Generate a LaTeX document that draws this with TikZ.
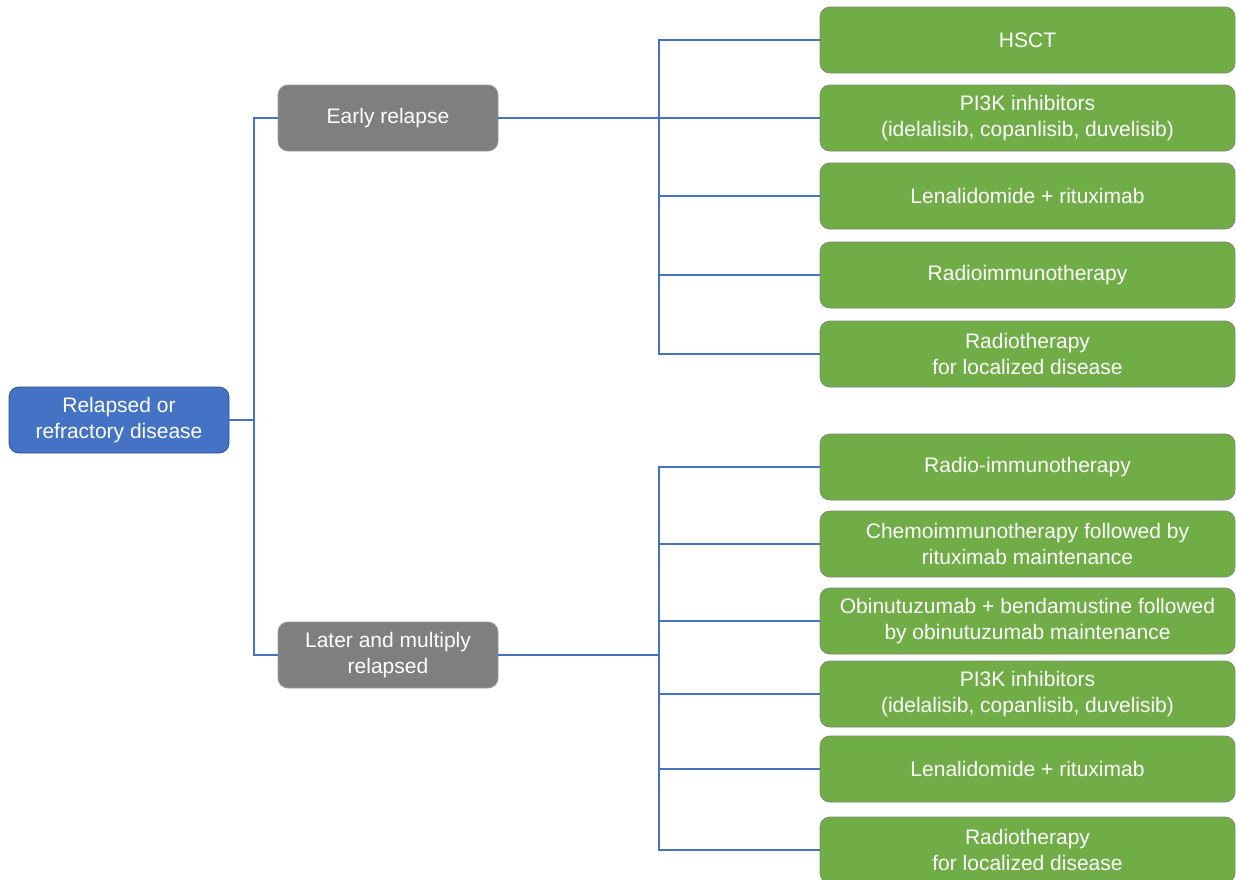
\documentclass[tikz,border=0pt]{standalone}
\usepackage{fontspec}
\setmainfont{Liberation Sans}
\definecolor{rootblue}{HTML}{4472C4}
\definecolor{rootedge}{HTML}{2F528F}
\definecolor{midgray}{HTML}{7F7F7F}
\definecolor{leafgreen}{HTML}{70AD47}
\definecolor{leafedge}{HTML}{7A8A70}
\definecolor{linkblue}{HTML}{4472C4}
\begin{document}
\begin{tikzpicture}[x=1pt,y=-1pt,
  box/.style={rounded corners=10pt, align=center, text=white, inner sep=2pt,
    minimum height=66pt, font=\fontsize{21}{25.5}\selectfont, line width=0.8pt},
  rootbox/.style={box, fill=rootblue, draw=rootedge, minimum width=220pt},
  midbox/.style={box, fill=midgray, draw=midgray!80!white, minimum width=220pt},
  leafbox/.style={box, fill=leafgreen, draw=leafedge, minimum width=415pt},
  link/.style={draw=linkblue, line width=1.1pt}]
\useasboundingbox (0,0) rectangle (1236,879);
\clip (0,0) rectangle (1236,879);
\fill[white] (0,0) rectangle (1236,879);

\node[rootbox] (root) at (119,420) {Relapsed or\\refractory disease};
\node[midbox] (early) at (388,118) {Early relapse};
\node[midbox] (later) at (388,655) {Later and multiply\\relapsed};

\node[leafbox] (e1) at (1027.5,40) {HSCT};
\node[leafbox] (e2) at (1027.5,118) {PI3K inhibitors\\(idelalisib, copanlisib, duvelisib)};
\node[leafbox] (e3) at (1027.5,196) {Lenalidomide + rituximab};
\node[leafbox] (e4) at (1027.5,275) {Radioimmunotherapy};
\node[leafbox] (e5) at (1027.5,354) {Radiotherapy\\for localized disease};

\node[leafbox] (l1) at (1027.5,467) {Radio-immunotherapy};
\node[leafbox] (l2) at (1027.5,544) {Chemoimmunotherapy followed by\\rituximab maintenance};
\node[leafbox] (l3) at (1027.5,621) {Obinutuzumab + bendamustine followed\\by obinutuzumab maintenance};
\node[leafbox] (l4) at (1027.5,694) {PI3K inhibitors\\(idelalisib, copanlisib, duvelisib)};
\node[leafbox] (l5) at (1027.5,769) {Lenalidomide + rituximab};
\node[leafbox] (l6) at (1027.5,850) {Radiotherapy\\for localized disease};

\coordinate (rj) at (254,420);
\coordinate (ej) at (659,118);
\coordinate (lj) at (659,655);

\draw[link] (root.east) -- (rj);
\foreach \t in {early,later}
  \draw[link] (rj) |- (\t.west);

\draw[link] (early.east) -- (ej);
\foreach \t in {e1,e2,e3,e4,e5}
  \draw[link] (ej) |- (\t.west);

\draw[link] (later.east) -- (lj);
\foreach \t in {l1,l2,l3,l4,l5,l6}
  \draw[link] (lj) |- (\t.west);
\end{tikzpicture}
\end{document}
